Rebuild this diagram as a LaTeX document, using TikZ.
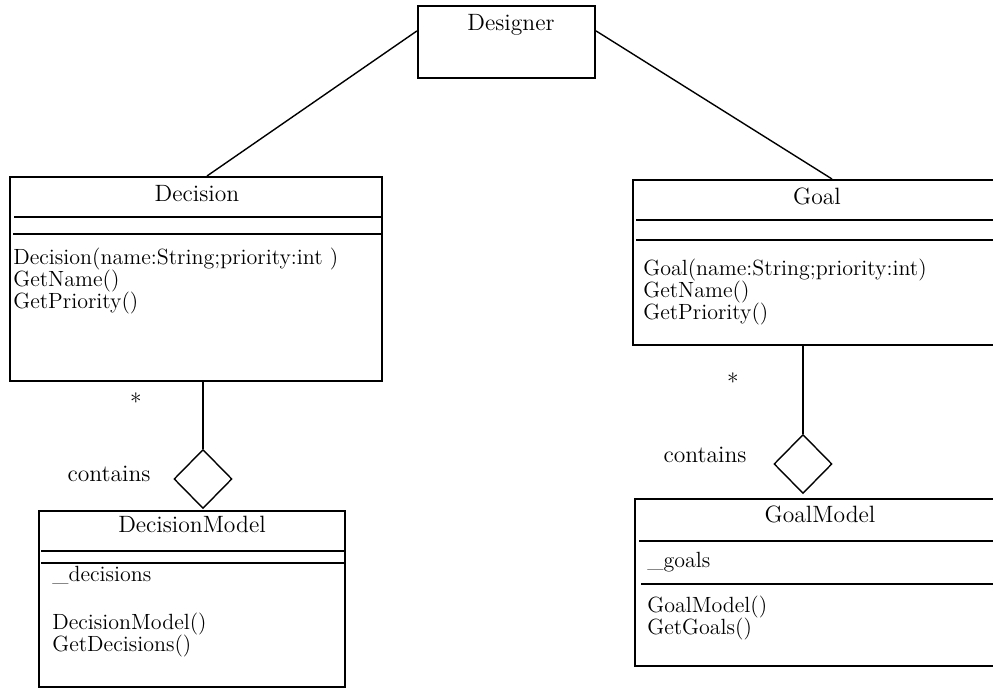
\documentclass[tikz,border=0pt]{standalone}
\usetikzlibrary{shapes.geometric,calc}
\setlength{\lineskiplimit}{-20pt}
\begin{document}
\begin{tikzpicture}[x=0.5pt,y=-0.5pt,
  cls/.style={draw,line width=1pt,rectangle,anchor=north west,inner sep=0pt},
  ft/.style={font=\fontsize{11.8}{11.8}\selectfont,inner sep=0pt},
  memft/.style={font=\fontsize{11}{11}\selectfont,inner sep=0pt},
  title/.style={ft,anchor=base},
  mem/.style={memft,anchor=base west,align=left},
  sepline/.style={line width=0.8pt},
  conn/.style={line width=0.7pt},
  agg/.style={draw,diamond,line width=0.7pt,minimum width=29pt,minimum height=29.5pt,inner sep=0pt}]
\useasboundingbox (0,0) rectangle (993,688);
\clip (0,0) rectangle (993,688);

% Designer
\node[cls,minimum width=88.5pt,minimum height=36pt] (des) at (417,5) {};
\node[title] (desT) at (511,31) {Designer};

% Decision
\node[cls,minimum width=186pt,minimum height=102pt] (dec) at (9,176) {};
\node[title] (decT) at (197,202) {Decision};
\draw[sepline] (14,217) -- (381,217);
\draw[sepline] (13,234) -- (381,234);
\node[mem] (decM) at (13,309) {Decision(name:String;priority:int )\\GetName()\\GetPriority()};

% Goal
\node[cls,minimum width=185pt,minimum height=82.5pt] (goal) at (632,179) {};
\node[title] (goalT) at (817,205) {Goal};
\draw[sepline] (636,220) -- (1002,220);
\draw[sepline] (636,240) -- (1002,240);
\node[mem] (goalM) at (643,320) {Goal(name:String;priority:int)\\GetName()\\GetPriority()};

% DecisionModel
\node[cls,minimum width=153pt,minimum height=88pt] (dm) at (38,510) {};
\node[title] (dmT) at (192,533) {DecisionModel};
\draw[sepline] (41,551) -- (344,551);
\draw[sepline] (41,563) -- (344,563);
\node[mem] (dmA) at (52,582) {\_decisions};
\node[mem] (dmM) at (52,652) {DecisionModel()\\GetDecisions()};

% GoalModel
\node[cls,minimum width=186pt,minimum height=83.5pt] (gm) at (634,498) {};
\node[title] (gmT) at (820,523) {GoalModel};
\draw[sepline] (639,541) -- (1006,541);
\draw[sepline] (641,584) -- (1006,584);
\node[mem] (gmA) at (647,568) {\_goals};
\node[mem] (gmM) at (647,635) {GoalModel()\\GetGoals()};

% aggregation diamonds
\node[agg] (d1) at (203,479) {};
\node[agg] (d2) at (803,464) {};

% connectors
\coordinate (desL) at ($(des.north west)!0.35!(des.south west)$);
\coordinate (desR) at ($(des.north east)!0.35!(des.south east)$);
\coordinate (decTop) at (207,176);
\coordinate (goalTop) at (832,179);
\draw[conn] (desL) -- (decTop);
\draw[conn] (desR) -- (goalTop);
\draw[conn] (d1.north) -- (d1.north |- dec.south);
\draw[conn] (d2.north) -- (d2.north |- goal.south);

% labels
\node[ft] (star1) at (136,402) {*};
\node[ft] (star2) at (733,382) {*};
\node[ft] (cont1) at (109,474) {contains};
\node[ft] (cont2) at (705,455) {contains};
\end{tikzpicture}
\end{document}
